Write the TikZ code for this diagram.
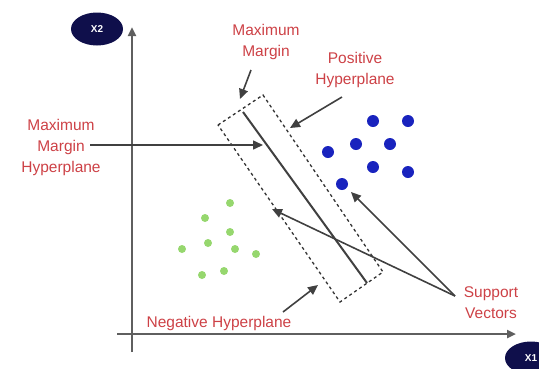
\documentclass[tikz,border=0pt]{standalone}
\usepackage{fontspec}
\setmainfont{Liberation Sans}
\usetikzlibrary{arrows.meta,shapes.geometric}
\definecolor{lblred}{RGB}{205,65,70}
\definecolor{navy}{RGB}{15,15,75}
\definecolor{bdot}{RGB}{25,35,190}
\definecolor{gdot}{RGB}{150,215,110}
\definecolor{axisgray}{RGB}{95,95,95}
\begin{document}
\begin{tikzpicture}[x=1pt,y=-1pt,
  lbl/.style={text=lblred, font=\fontsize{15.5}{21}\selectfont, align=center, inner sep=0pt},
  axlab/.style={ellipse, fill=navy, text=white, minimum width=52pt, minimum height=33pt, inner sep=0pt, font=\bfseries\fontsize{10}{12}\selectfont},
  axisline/.style={draw=axisgray, line width=2.5pt},
  axtip/.style={-{Triangle[length=9pt,width=8pt]}},
  ptr/.style={draw=black!75, line width=1.6pt, -{Triangle[length=10pt,width=9pt]}},
  band/.style={draw=black!80, line width=1.3pt, dash pattern=on 3pt off 3pt},
  hyper/.style={draw=black!75, line width=2pt},
  bpt/.style={circle, fill=bdot, minimum size=12pt, inner sep=0pt},
  gpt/.style={circle, fill=gdot, minimum size=8pt, inner sep=0pt}]
\useasboundingbox (0,0) rectangle (539,368);
% axes
\coordinate (ytop) at (132,27);
\coordinate (ybot) at (132,352);
\coordinate (xl) at (117,334);
\coordinate (xr) at (516,334);
\draw[axisline, axtip] (ybot) -- (ytop);
\draw[axisline, axtip] (xl) -- (xr);
\node[axlab] (x2) at (97,29) {X2};
\node[axlab] (x1) at (531,358) {X1};
% band
\coordinate (bA) at (218,125);
\coordinate (bB) at (263,95);
\coordinate (bC) at (383,272);
\coordinate (bD) at (340,302);
\draw[band] (bA) -- (bB) -- (bC) -- (bD) -- cycle;
% hyperplane
\coordinate (h1) at (243,112);
\coordinate (h2) at (367,283);
\draw[hyper] (h1) -- (h2);
% points
\foreach \n/\p in {1/{(373,121)},2/{(408,121)},3/{(356,144)},4/{(390,144)},5/{(328,152)},6/{(373,167)},7/{(408,172)},8/{(342,184)}}
  \node[bpt] (b\n) at \p {};
\foreach \n/\p in {1/{(230,203)},2/{(205,218)},3/{(230,232)},4/{(208,243)},5/{(182,249)},6/{(235,249)},7/{(256,254)},8/{(202,275)},9/{(224,271)}}
  \node[gpt] (g\n) at \p {};
% labels
\node[lbl] (mm) at (266,42) {Maximum\\Margin};
\node[lbl] (pos) at (355,70) {Positive\\Hyperplane};
\node[lbl] (mmh) at (61,147) {Maximum\\Margin\\Hyperplane};
\node[lbl] (neg) at (219,323) {Negative Hyperplane};
\node[lbl] (sv) at (491,303) {Support\\Vectors};
% arrows
\coordinate (mmS) at (251,70);
\coordinate (mmT) at (240,99);
\draw[ptr] (mmS) -- (mmT);
\coordinate (posS) at (342,97);
\coordinate (posT) at (290,128);
\draw[ptr] (posS) -- (posT);
\coordinate (mmhS) at (90,145);
\coordinate (mmhT) at (263,145);
\draw[ptr] (mmhS) -- (mmhT);
\coordinate (negS) at (283,312);
\coordinate (negT) at (318,285);
\draw[ptr] (negS) -- (negT);
\coordinate (svS) at (455,296);
\coordinate (svT1) at (272,209);
\coordinate (svT2) at (351,192);
\draw[ptr] (svS) -- (svT1);
\draw[ptr] (svS) -- (svT2);
\end{tikzpicture}
\end{document}
